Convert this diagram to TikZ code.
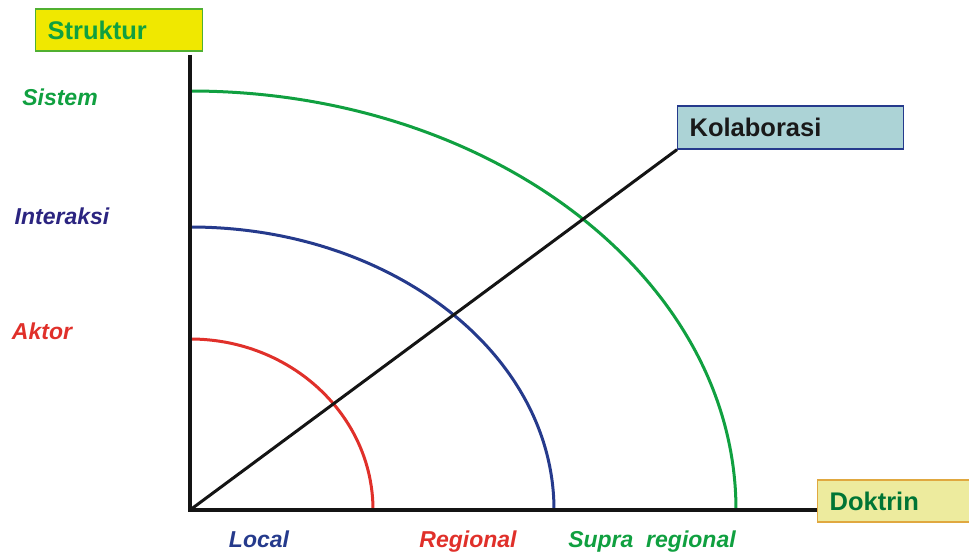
\documentclass[tikz,border=0pt]{standalone}
\usepackage{fontspec}
\setmainfont{Liberation Sans}
\definecolor{grn}{HTML}{10A040}
\definecolor{dgrn}{HTML}{007535}
\definecolor{blu}{HTML}{253A8C}
\definecolor{indig}{HTML}{2B2480}
\definecolor{rd}{HTML}{E0302A}
\definecolor{yel}{HTML}{F0E800}
\definecolor{yelb}{HTML}{50B030}
\definecolor{teal}{HTML}{ACD3D6}
\definecolor{lyel}{HTML}{EDEB9E}
\definecolor{orb}{HTML}{E0A840}
\begin{document}
\begin{tikzpicture}[x=1pt,y=1pt,
  boxlabel/.style={draw,line width=1.2pt,rectangle,anchor=west,inner xsep=12pt,inner ysep=0pt,
    align=left,font=\fontsize{25.5}{28}\selectfont\bfseries},
  axislabel/.style={font=\fontsize{23}{26}\selectfont\bfseries\itshape,inner sep=0pt},
  axisline/.style={line width=4pt,black!92},
  arcline/.style={line width=3pt}]
\useasboundingbox (0,0) rectangle (969,552);
\coordinate (O) at (190,42);
\coordinate (top) at (190,497);
\node[boxlabel,fill=yel,draw=yelb,text=grn,minimum height=42pt,text width=143pt] (struk) at (35,522) {Struktur};
\node[boxlabel,fill=teal,draw=blu,text=black!90,minimum height=43pt,text width=202pt] (kolab) at (677,424.5) {Kolaborasi};
\node[boxlabel,fill=lyel,draw=orb,text=dgrn,minimum height=42pt,text width=134pt] (dok) at (817,51) {Doktrin};
% arcs
\draw[arcline,rd] (O) ++(0,171) arc[start angle=90,end angle=0,x radius=183,y radius=171];
\draw[arcline,blu] (O) ++(0,283) arc[start angle=90,end angle=0,x radius=364,y radius=283];
\draw[arcline,grn] (O) ++(0,419) arc[start angle=90,end angle=0,x radius=546,y radius=419];
% axes
\draw[axisline] (top) -- (O) -- (O -| dok.west);
\draw[line width=3pt,black!92] (O) -- (kolab.south west);
% labels
\node[axislabel,text=grn] (sistem) at (60,455) {Sistem};
\node[axislabel,text=indig] (inter) at (62,336) {Interaksi};
\node[axislabel,text=rd] (aktor) at (42,221) {Aktor};
\node[axislabel,text=blu,anchor=base] (local) at (259,5) {Local};
\node[axislabel,text=rd,anchor=base] (reg) at (468,5) {Regional};
\node[axislabel,text=grn,anchor=base] (supra) at (652,5) {Supra\ \ regional};
\end{tikzpicture}
\end{document}
